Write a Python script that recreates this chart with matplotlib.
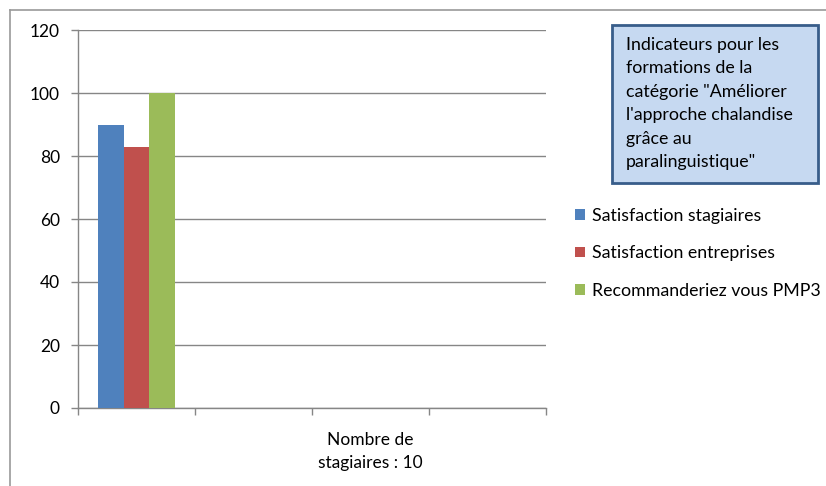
import matplotlib
matplotlib.use("Agg")
import matplotlib.pyplot as plt
from matplotlib.patches import Rectangle
from matplotlib.lines import Line2D
import numpy as np

plt.rcParams['font.family'] = ['Lato', 'DejaVu Sans']

categories = ["", "", "Nombre de\nstagiaires : 10", ""]
series_names = ["Satisfaction stagiaires", "Satisfaction entreprises", "Recommanderiez vous PMP3"]
series_values = [
    [90, None, None, None],
    [83, None, None, None],
    [100, None, None, None],
]
colors = ["#4F81BD", "#C0504D", "#9BBB59"]
yticks = [0, 20, 40, 60, 80, 100, 120]
title_text = ("Indicateurs pour les\nformations de la\ncatégorie \"Améliorer\n"
              "l'approche chalandise\ngrâce au\nparalinguistique\"")

W, H = 826, 486
fig = plt.figure(figsize=(W / 100, H / 100), dpi=100)
ax = fig.add_axes([78 / W, 1 - 408 / H, (546 - 78) / W, (408 - 30) / H])

x = np.arange(len(categories))
bw = 0.222
grid_c = "#868686"
for i, (name, vals, c) in enumerate(zip(series_names, series_values, colors)):
    v = [np.nan if a is None else a for a in vals]
    ax.bar(x + (i - 1) * bw, v, width=bw, color=c, label=name, zorder=3)

ax.set_xlim(-0.5, len(categories) - 0.5)
ax.set_ylim(0, 120)
ax.set_yticks(yticks)
ax.set_yticklabels([str(t) for t in yticks], fontsize=12.5, color="#000000")
ax.yaxis.grid(True, color=grid_c, linewidth=1.0, zorder=0)
ax.set_axisbelow(True)

ax.set_xticks(np.arange(len(categories) + 1) - 0.5)
ax.set_xticklabels([""] * (len(categories) + 1))
ax.set_xticks(x, minor=True)
ax.set_xticklabels(categories, minor=True, fontsize=12.5, linespacing=1.55)
ax.tick_params(axis='x', which='minor', length=0, pad=17)
ax.tick_params(axis='x', which='major', length=5, color=grid_c, width=1)
ax.tick_params(axis='y', length=5, color=grid_c, width=1, pad=8)

for s in ['top', 'right']:
    ax.spines[s].set_visible(False)
for s in ['left', 'bottom']:
    ax.spines[s].set_color(grid_c)
    ax.spines[s].set_linewidth(1.0)

# outer chart frame (left and top edges visible)
fig.add_artist(Line2D([10 / W, 10 / W], [0, 1 - 10 / H], transform=fig.transFigure,
                      color="#9A9A9A", linewidth=1.2))
fig.add_artist(Line2D([10 / W, 1], [1 - 10 / H, 1 - 10 / H], transform=fig.transFigure,
                      color="#9A9A9A", linewidth=1.2))

# title text box
fig.add_artist(Rectangle((612 / W, 1 - 183 / H), (818 - 612) / W, (183 - 25) / H,
                         transform=fig.transFigure, facecolor="#C6D9F1",
                         edgecolor="#385D8A", linewidth=2))
fig.text(626 / W, 1 - 37 / H, title_text, fontsize=12.8, va='top', ha='left',
         linespacing=1.57, color="#000000")

leg = ax.legend(loc='upper left', bbox_to_anchor=(575 / W, 1 - 208 / H),
                bbox_transform=fig.transFigure, frameon=False, fontsize=12.8,
                handlelength=0.55, handleheight=0.55, handletextpad=0.4,
                labelspacing=1.2, borderaxespad=0, borderpad=0)

fig.savefig("out.png", dpi=100)
